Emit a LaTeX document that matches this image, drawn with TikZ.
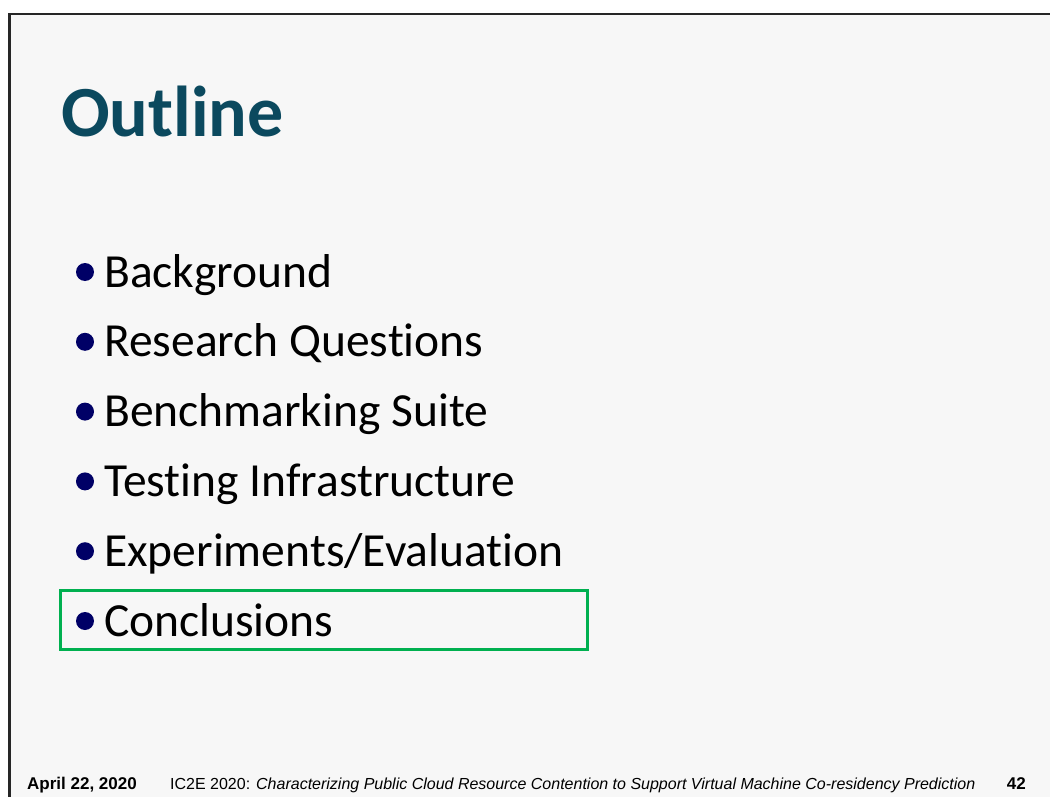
\documentclass[tikz,border=0pt]{standalone}
\usepackage{fontspec}
\setmainfont{Carlito}[Ligatures={NoCommon,NoContextual}]
\newfontfamily\footfont{Liberation Sans}
\usetikzlibrary{positioning}
\definecolor{titleteal}{RGB}{11,73,94}
\definecolor{dotnavy}{RGB}{0,0,102}
\definecolor{hlgreen}{RGB}{0,176,80}
\definecolor{slidebg}{RGB}{247,247,247}

\begin{document}
\begin{tikzpicture}[x=1pt,y=-1pt,
  item/.style={anchor=base west,inner sep=0pt,font=\fontsize{47.5}{52}\selectfont},
  foot/.style={anchor=base west,inner sep=0pt,font=\footfont}]
 \useasboundingbox (0,0) rectangle (1050,797);
 \fill[white] (0,0) rectangle (1050,797);
 \fill[slidebg] (9.5,14) rectangle (1050,797);
 \draw[line width=2.5pt,black!85] (9.5,797)--(9.5,14)--(1050,14);
 % title
 \node[anchor=base west,inner sep=0pt,text=titleteal,
   font=\fontsize{72}{76}\selectfont\bfseries] (title) at (61,137) {Outline};
 % bullet list
 \foreach \t [count=\i] in {Background,Research Questions,Benchmarking Suite,
   Testing Infrastructure,Experiments/Evaluation,Conclusions}{
  \node[item] (item\i) at (104,{287+69.8*(\i-1)}) {\t};
  \fill[dotnavy] (85,{272+69.8*(\i-1)}) circle (9);
 }
 \draw[hlgreen,line width=3pt] (60,590) rectangle (587,649);
 % footer
 \node[foot,font=\footfont\fontsize{17}{20}\selectfont\bfseries] (date) at (27,789) {April 22, 2020};
 \node[foot,font=\footfont\fontsize{16}{19}\selectfont] (talk) at (170,789)
   {IC2E 2020: \textit{Characterizing Public Cloud Resource Contention to Support Virtual Machine Co-residency Prediction}};
 \node[foot,anchor=base east,font=\footfont\fontsize{17}{20}\selectfont\bfseries] (page) at (1026,789) {42};
\end{tikzpicture}
\end{document}
